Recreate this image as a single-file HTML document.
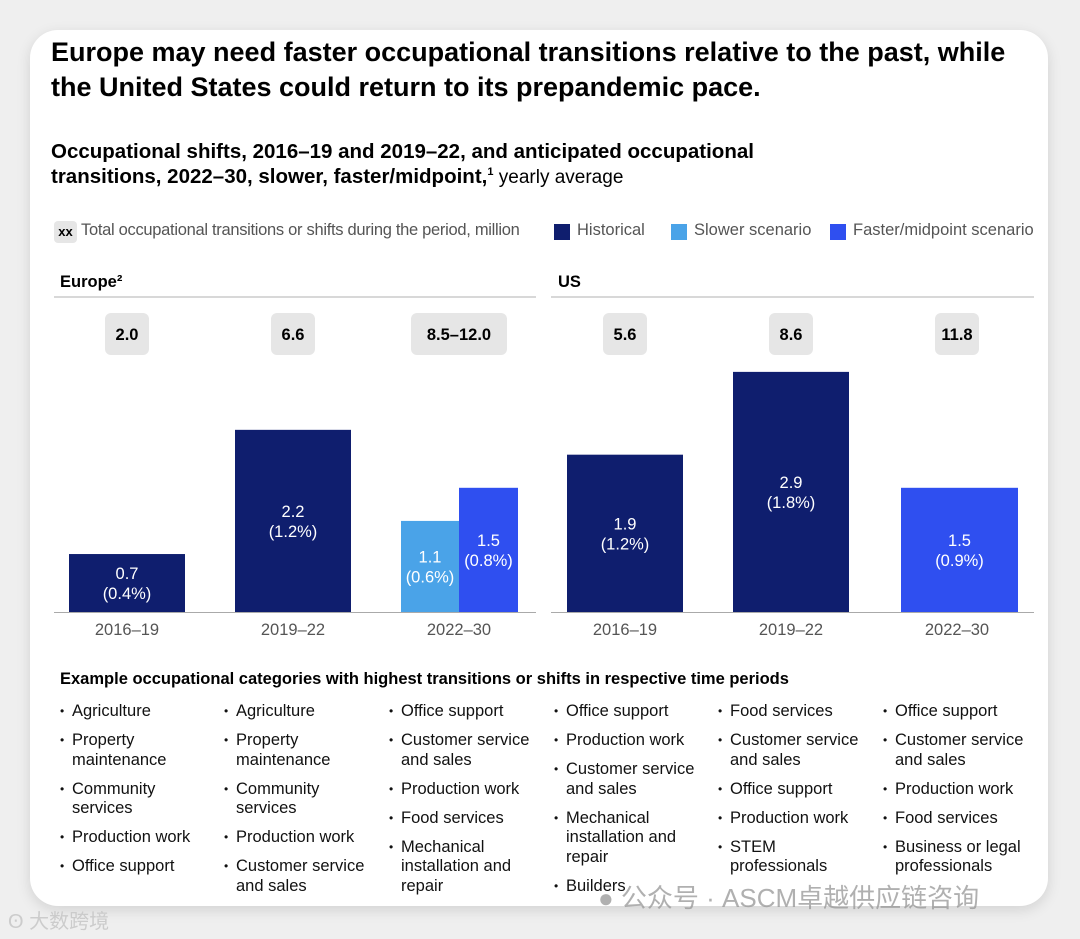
<!DOCTYPE html>
<html><head><meta charset="utf-8"><style>
body{margin:0;width:1080px;height:939px;background:#efefef;font-family:"Liberation Sans","Noto Sans CJK SC",sans-serif;position:relative;overflow:hidden}
.card{position:absolute;left:30px;top:30px;width:1018px;height:876px;background:#fff;border-radius:28px;box-shadow:0 4px 14px rgba(0,0,0,.12)}
.t{position:absolute;left:51px;top:35px;font-size:27px;font-weight:bold;line-height:35px;color:#000;white-space:nowrap}
.st{position:absolute;left:51px;top:140px;font-size:19px;line-height:24px;color:#000;white-space:nowrap}
.st b{font-size:20.5px}
.st sup{font-size:11px;line-height:0}
.leg{position:absolute;top:221px;font-size:16.5px;color:#555;white-space:nowrap}
.sw{position:absolute;width:16px;height:16px;top:224px}
.cols{position:absolute;top:702px;font-size:16.5px;line-height:19.5px;color:#111}
.cols .it{position:relative;padding-left:12px;margin-bottom:9.5px}
.cols .it:before{content:"•";position:absolute;left:0;top:0;font-size:12px}
.wm{position:absolute;font-size:26px;color:rgba(150,150,150,.75);white-space:nowrap}
</style></head><body>
<div class="card"></div>
<div class="t">Europe may need faster occupational transitions relative to the past, while<br>the United States could return to its prepandemic pace.</div>
<div class="st"><b>Occupational shifts, 2016–19 and 2019–22, and anticipated occupational<br>transitions, 2022–30, slower, faster/midpoint,<sup>1</sup></b> yearly average</div>
<div style="position:absolute;left:54px;top:221px;width:23px;height:22px;background:#e6e6e6;border-radius:4px;font-size:13px;font-weight:bold;text-align:center;line-height:22px">xx</div>
<div class="leg" style="left:81px;letter-spacing:-.3px">Total occupational transitions or shifts during the period, million</div>
<div class="sw" style="left:554px;background:#0f1e6e"></div>
<div class="leg" style="left:577px">Historical</div>
<div class="sw" style="left:671px;background:#4aa3e8"></div>
<div class="leg" style="left:694px">Slower scenario</div>
<div class="sw" style="left:830px;background:#2f4ff0"></div>
<div class="leg" style="left:853px">Faster/midpoint scenario</div>
<svg id="chart" width="1080" height="660" style="position:absolute;left:0;top:0"></svg>
<div style="position:absolute;left:60px;top:670px;font-size:16.5px;font-weight:bold;white-space:nowrap">Example occupational categories with highest transitions or shifts in respective time periods</div>
<div id="cols"></div>
<div class="wm" style="left:598px;top:878px">● 公众号 · ASCM卓越供应链咨询</div>
<div class="wm" style="left:8px;top:905px;font-size:20px;color:rgba(200,200,200,.9)">ʘ 大数跨境</div>
<script>
const NS="http://www.w3.org/2000/svg";
const svg=document.getElementById('chart');
const periods=["2016–19","2019–22","2022–30"];
const europeTotals=["2.0","6.6","8.5–12.0"];
const usTotals=["5.6","8.6","11.8"];
const europeHist=[0.7,2.2,null];
const europeHistPct=["0.4%","1.2%",null];
const europeSlower=1.1, europeSlowerPct="0.6%";
const europeFaster=1.5, europeFasterPct="0.8%";
const usHist=[1.9,2.9,null];
const usHistPct=["1.2%","1.8%",null];
const usFaster=1.5, usFasterPct="0.9%";
const base=612, perUnit=82.8;
const y=v=>base-v*perUnit;
function el(t,a,txt){const e=document.createElementNS(NS,t);for(const k in a)e.setAttribute(k,a[k]);if(txt!=null)e.textContent=txt;svg.appendChild(e);return e;}
function bar(x,w,v,pct,col,name){
  const r=el('rect',{x:x,y:y(v),width:w,height:v*perUnit,fill:col});
  
  
  const cy=(y(v)+base)/2;
  const t1=el('text',{x:x+w/2,y:cy-4,'text-anchor':'middle',fill:'#fff','font-size':16.5},v.toFixed(1));
  
  
  const t2=el('text',{x:x+w/2,y:cy+16,'text-anchor':'middle',fill:'#fff','font-size':16.5},'('+pct+')');
  
  
}
function panel(x0,lineX,title,totals,hist,histPct,name){
  const h=el('text',{x:x0+2,y:287,'font-size':16.5,'font-weight':'bold'},title);
  
  
  el('line',{x1:lineX,x2:x0+478,y1:297,y2:297,stroke:'#ccc','stroke-width':1.5});
  el('line',{x1:lineX,x2:x0+478,y1:612.5,y2:612.5,stroke:'#aaa','stroke-width':1});
  periods.forEach((p,i)=>{
    const cx=x0+69+i*166;
    const w=totals[i].length>4?96:44;
    el('rect',{x:cx-w/2,y:313,width:w,height:42,rx:6,fill:'#e6e6e6'});
    const tt=el('text',{x:cx,y:340,'text-anchor':'middle','font-size':16.5,'font-weight':'bold'},totals[i]);
    
    
    const pl=el('text',{x:cx,y:635,'text-anchor':'middle','font-size':16.5,fill:'#555'},p);
    
    
    if(hist[i]!=null) bar(cx-58,116,hist[i],histPct[i],'#0f1e6e',name+'-bar-'+i);
  });
}
panel(58,54,"Europe²",europeTotals,europeHist,europeHistPct,'europe');
panel(556,551,"US",usTotals,usHist,usHistPct,'us');
bar(401,58,europeSlower,europeSlowerPct,'#4aa3e8','europe-bar-slower');
bar(459,59,europeFaster,europeFasterPct,'#2f4ff0','europe-bar-faster');
bar(901,117,usFaster,usFasterPct,'#2f4ff0','us-bar-faster');

const lists=[
["Agriculture","Property<br>maintenance","Community<br>services","Production work","Office support"],
["Agriculture","Property<br>maintenance","Community<br>services","Production work","Customer service<br>and sales"],
["Office support","Customer service<br>and sales","Production work","Food services","Mechanical<br>installation and<br>repair"],
["Office support","Production work","Customer service<br>and sales","Mechanical<br>installation and<br>repair","Builders"],
["Food services","Customer service<br>and sales","Office support","Production work","STEM<br>professionals"],
["Office support","Customer service<br>and sales","Production work","Food services","Business or legal<br>professionals"]];
const colX=[60,224,389,554,718,883];
const cont=document.getElementById('cols');
lists.forEach((l,i)=>{
  const d=document.createElement('div');d.className='cols';d.style.left=colX[i]+'px';
  
  
  l.forEach(s=>{const it=document.createElement('div');it.className='it';it.innerHTML=s;
    
    
    d.appendChild(it);});
  cont.appendChild(d);
});
</script>
</body></html>
